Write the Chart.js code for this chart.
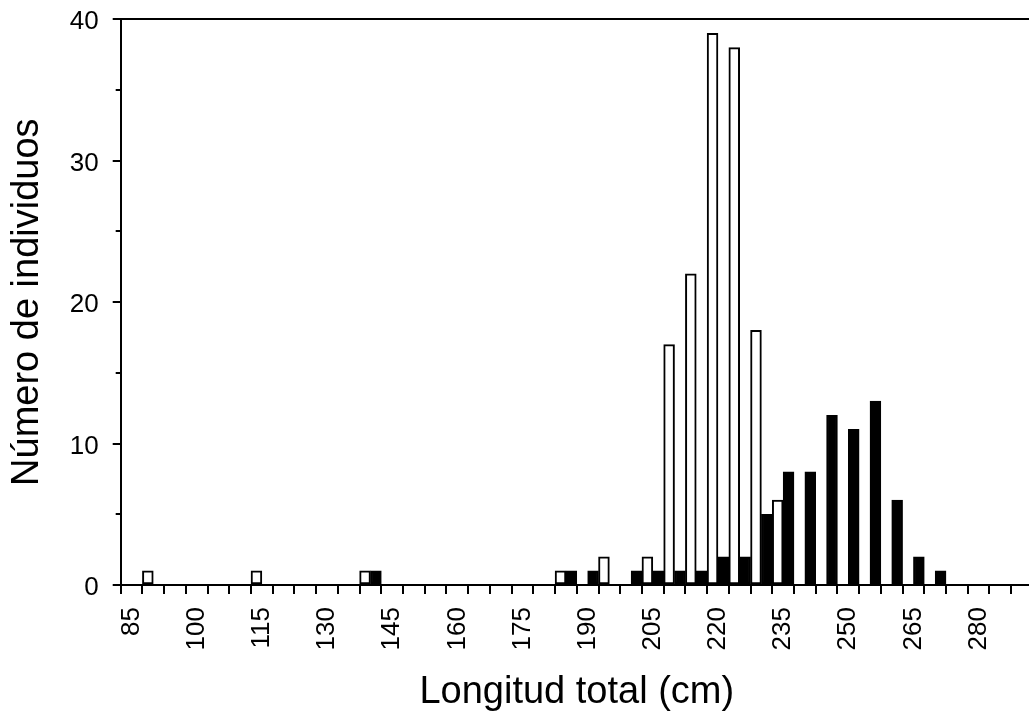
<!DOCTYPE html>
<html>
<head>
<meta charset="utf-8">
<title>Longitud total</title>
<script src="https://cdn.jsdelivr.net/npm/chart.js@4"></script>
<style>
  html, body { margin: 0; padding: 0; background: #fff; overflow: hidden; }
  canvas { display: block; }
</style>
</head>
<body>
<canvas id="chart" width="1040" height="720"></canvas>
<script>
// Size classes (cm), one bar pair per class
const lengthClasses = [85, 90, 95, 100, 105, 110, 115, 120, 125, 130,
                       135, 140, 145, 150, 155, 160, 165, 170, 175, 180,
                       185, 190, 195, 200, 205, 210, 215, 220, 225, 230,
                       235, 240, 245, 250, 255, 260, 265, 270, 275, 280,
                       285, 290];
// Classes whose label is printed on the axis
const labelledClasses = [85, 100, 115, 130, 145, 160, 175, 190, 205, 220, 235, 250, 265, 280];

// Counts per class: open bars and filled bars
const openCounts   = [0, 1, 0, 0, 0, 0, 1, 0, 0, 0,
                      0, 1, 0, 0, 0, 0, 0, 0, 0, 0,
                      1, 0, 2, 0, 2, 17, 22, 39, 38, 18,
                      6, 0, 0, 0, 0, 0, 0, 0, 0, 0,
                      0, 0];
const filledCounts = [0, 0, 0, 0, 0, 0, 0, 0, 0, 0,
                      0, 1, 0, 0, 0, 0, 0, 0, 0, 0,
                      1, 1, 0, 1, 1, 1, 1, 2, 2, 5,
                      8, 8, 12, 11, 13, 6, 2, 1, 0, 0,
                      0, 0];

const yMajorTicks = [0, 10, 20, 30, 40];
const yMinorTicks = [5, 15, 25, 35];

const FONT = 'Liberation Sans, Arial, Helvetica, sans-serif';

// Short minor tick marks on the left axis
const minorTicksPlugin = {
  id: 'minorTicks',
  afterDraw(chart) {
    const y = chart.scales.y;
    const ctx = chart.ctx;
    ctx.save();
    ctx.strokeStyle = '#000';
    ctx.lineWidth = 2;
    ctx.beginPath();
    yMinorTicks.forEach(v => {
      const py = Math.round(y.getPixelForValue(v));
      ctx.moveTo(y.right - 5, py);
      ctx.lineTo(y.right, py);
    });
    ctx.stroke();
    ctx.restore();
  }
};

new Chart(document.getElementById('chart'), {
  type: 'bar',
  data: {
    labels: lengthClasses,
    datasets: [
      {
        data: openCounts,
        backgroundColor: '#ffffff',
        borderColor: '#000000',
        borderWidth: 2,
        borderSkipped: false,
        categoryPercentage: 1,
        barPercentage: 1
      },
      {
        data: filledCounts,
        backgroundColor: '#000000',
        borderColor: '#000000',
        borderWidth: 2,
        borderSkipped: false,
        categoryPercentage: 1,
        barPercentage: 1
      }
    ]
  },
  options: {
    responsive: false,
    animation: false,
    events: [],
    layout: { padding: { left: 0, top: 19.3, right: 7.1, bottom: 0 } },
    plugins: {
      legend: { display: false },
      title: { display: false },
      tooltip: { enabled: false }
    },
    scales: {
      x: {
        type: 'category',
        offset: true,
        afterFit(scale) {
          scale.height = 135;
          scale.paddingLeft = 0;
          scale.paddingRight = 0;
        },
        border: { display: true, color: '#000', width: 2 },
        grid: {
          offset: true,
          drawOnChartArea: false,
          drawTicks: true,
          tickLength: 9,
          color: '#000',
          lineWidth: 2
        },
        ticks: {
          autoSkip: false,
          minRotation: 90,
          maxRotation: 90,
          padding: 13,
          color: '#000',
          font: { family: FONT, size: 26 },
          callback(value, index) {
            const c = lengthClasses[index];
            return labelledClasses.includes(c) ? String(c) : '';
          }
        },
        title: {
          display: true,
          text: 'Longitud total (cm)',
          color: '#000',
          font: { family: FONT, size: 38 },
          padding: { top: 0, bottom: 5 }
        }
      },
      y: {
        min: 0,
        max: 40,
        afterFit(scale) {
          scale.width = 120.7;
          scale.paddingTop = 0;
          scale.paddingBottom = 0;
        },
        border: { display: true, color: '#000', width: 2 },
        grid: {
          drawOnChartArea: true,
          drawTicks: true,
          tickLength: 8,
          lineWidth: 2,
          color: ctx => (ctx.tick && ctx.tick.value === 40) ? '#000' : 'rgba(0,0,0,0)',
          tickColor: ctx => (ctx.tick && yMajorTicks.includes(ctx.tick.value)) ? '#000' : 'rgba(0,0,0,0)'
        },
        ticks: {
          stepSize: 5,
          padding: 14,
          labelOffset: 3,
          color: '#000',
          font: { family: FONT, size: 26 },
          callback: v => yMajorTicks.includes(v) ? String(v) : ''
        },
        title: {
          display: true,
          text: 'Número de individuos',
          color: '#000',
          font: { family: FONT, size: 38 },
          padding: { top: 5, bottom: 0 }
        }
      }
    }
  },
  plugins: [minorTicksPlugin]
});
</script>
</body>
</html>
